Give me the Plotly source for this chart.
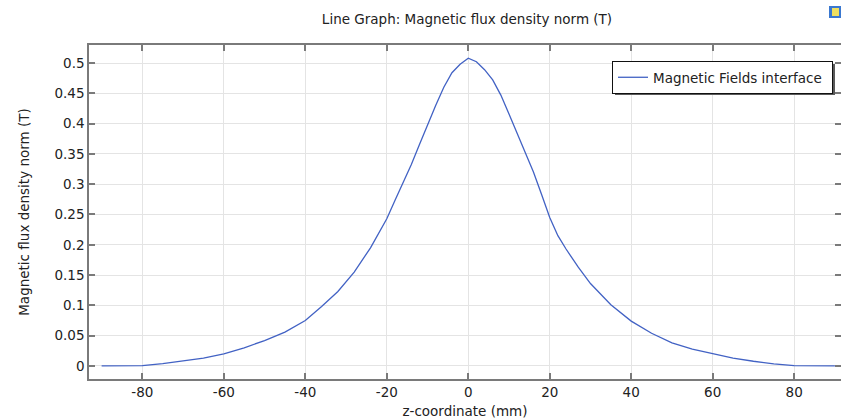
import plotly.graph_objects as go

# z-coordinate (mm)
z_mm = [-90, -85, -80, -75, -70, -65, -60, -55, -50, -45, -40, -36, -32, -28, -24,
        -20, -18, -16, -14, -12, -10, -8, -6, -5, -4, -2, 0, 2, 4, 6, 8, 10, 12, 14,
        16, 18, 20, 22, 24, 27, 30, 35, 40, 45, 50, 55, 60, 65, 70, 75, 80, 85, 90]
# Magnetic flux density norm (T)
b_norm = [0.0, 0.0, 0.0005, 0.004, 0.008, 0.013, 0.020, 0.030, 0.042, 0.056, 0.075,
          0.098, 0.123, 0.155, 0.195, 0.243, 0.273, 0.302, 0.332, 0.365, 0.398,
          0.430, 0.460, 0.472, 0.484, 0.498, 0.508, 0.502, 0.489, 0.472, 0.447,
          0.416, 0.384, 0.355, 0.320, 0.283, 0.245, 0.215, 0.193, 0.163, 0.136,
          0.101, 0.074, 0.054, 0.038, 0.028, 0.020, 0.013, 0.0078, 0.0035, 0.0005,
          0.0, 0.0]

x_ticks = [-80, -60, -40, -20, 0, 20, 40, 60, 80]
x_tick_text = ["-80", "-60", "-40", "-20", "0", "20", "40", "60", "80"]
y_ticks = [0, 0.05, 0.1, 0.15, 0.2, 0.25, 0.3, 0.35, 0.4, 0.45, 0.5]
y_tick_text = ["0", "0.05", "0.1", "0.15", "0.2", "0.25", "0.3", "0.35", "0.4", "0.45", "0.5"]

W, H = 841, 420
L, R, T, B = 89, 0, 45, 41
pw, ph = W - L - R, H - T - B
FS = 13.5

def px_x(p):
    return (p - L) / pw

def px_y(p):
    return (H - B - p) / ph

fig = go.Figure()
fig.add_trace(go.Scatter(
    x=z_mm, y=b_norm, mode="lines", name="Magnetic Fields interface\u00a0",
    line=dict(color="#4262c4", width=1.3),
))

axis_common = dict(
    showline=True, linecolor="#7a7a7a", linewidth=1.5, mirror="ticks",
    ticks="inside", ticklen=6, tickcolor="#7a7a7a", tickwidth=1.5,
    showgrid=True, gridcolor="#e4e4e4", gridwidth=1, zeroline=False,
    tickfont=dict(family="DejaVu Sans", size=FS, color="#222"),
)

fig.update_xaxes(
    range=[-93.1, 91.5], tickvals=x_ticks, ticktext=x_tick_text,
    title=dict(text="z-coordinate (mm)", standoff=8,
               font=dict(family="DejaVu Sans", size=FS, color="#222")),
    automargin=False, **axis_common,
)
fig.update_yaxes(
    range=[-0.0215, 0.5297], tickvals=y_ticks, ticktext=y_tick_text,
    title=dict(text="Magnetic flux density norm (T)", standoff=22,
               font=dict(family="DejaVu Sans", size=FS, color="#222")),
    automargin=False, **axis_common,
)

# legend shadow
fig.add_shape(type="rect", xref="paper", yref="paper",
              x0=px_x(615), x1=px_x(835), y0=px_y(95), y1=px_y(64),
              fillcolor="#5a5a5a", line=dict(width=0), layer="above")

# small icon top-right
fig.add_shape(type="rect", xref="paper", yref="paper",
              x0=px_x(829), x1=px_x(841), y0=px_y(18), y1=px_y(6),
              fillcolor="#3a78d0", line=dict(width=0), layer="above")
fig.add_shape(type="rect", xref="paper", yref="paper",
              x0=px_x(832), x1=px_x(839), y0=px_y(16), y1=px_y(8),
              fillcolor="#f0e060", line=dict(width=0), layer="above")

fig.update_layout(
    width=W, height=H,
    margin=dict(l=L, r=R, t=T, b=B),
    paper_bgcolor="white", plot_bgcolor="white",
    font=dict(family="DejaVu Sans", size=FS, color="#222"),
    title=dict(text="Line Graph: Magnetic flux density norm (T)",
               x=px_x(467), xref="paper", xanchor="center",
               y=1 - 19 / H, yref="container", yanchor="middle",
               font=dict(family="DejaVu Sans", size=FS, color="#222")),
    showlegend=True,
    legend=dict(x=px_x(612), y=px_y(61), xanchor="left", yanchor="top",
                bgcolor="white", bordercolor="#111", borderwidth=1,
                font=dict(family="DejaVu Sans", size=FS, color="#222")),
)

fig.write_html("out.html", post_script="document.body.style.margin='0';",
               config={"displayModeBar": False})
